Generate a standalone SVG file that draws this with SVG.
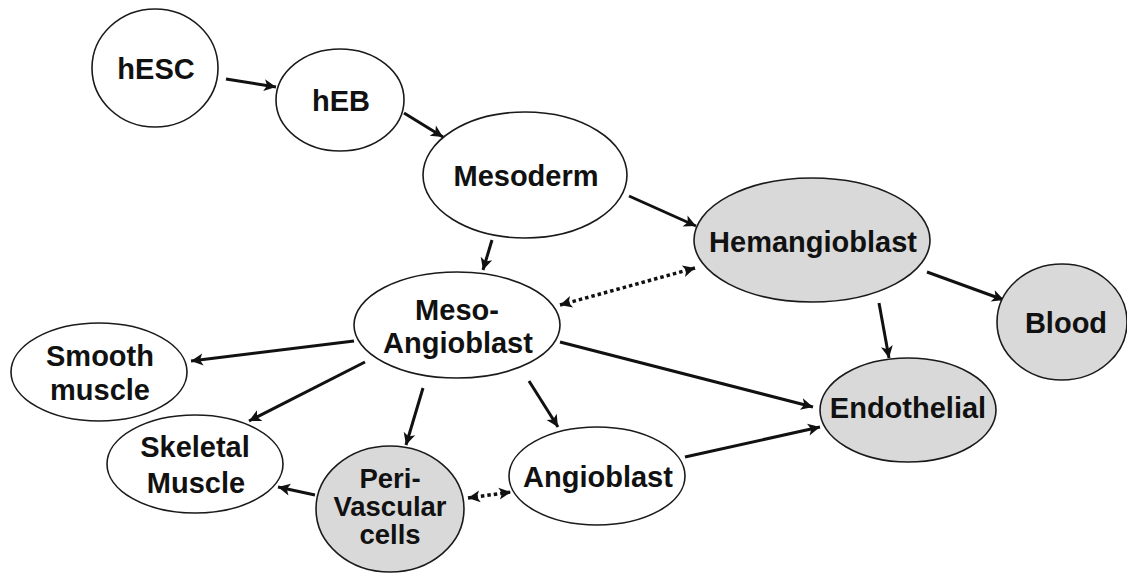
<svg xmlns="http://www.w3.org/2000/svg" width="1127" height="573" viewBox="0 0 1127 573">
  <style>
    .node { fill: #ffffff; stroke: #1a1a1a; stroke-width: 1.6; }
    .node.grey { fill: #d9d9d9; }
    .label { font-family: "Liberation Sans", Arial, sans-serif; font-weight: bold; font-size: 29px; fill: #111111; text-anchor: middle; }
    .label.small { font-size: 27.5px; }
    .edge { stroke: #111111; stroke-width: 3; fill: none; marker-end: url(#arrow); }
    .edge.dotted { stroke-width: 3.5; stroke-dasharray: 3.5 3; marker-start: url(#arrow); }
  </style>
  <defs>
    <marker id="arrow" viewBox="-1 -7 15 14" refX="12" refY="0" markerWidth="15" markerHeight="14" markerUnits="userSpaceOnUse" orient="auto-start-reverse">
      <path d="M0,-6 L12,0 L0,6 L3,0 Z" fill="#111111"/>
    </marker>
  </defs>
  <rect width="1127" height="573" fill="#ffffff"/>

  <g id="connectors">
    <line class="edge" x1="226" y1="79" x2="276" y2="87"/>
    <line class="edge" x1="404" y1="113" x2="443" y2="137"/>
    <line class="edge" x1="629" y1="196" x2="696" y2="226"/>
    <line class="edge" x1="492" y1="240" x2="483" y2="270"/>
    <line class="edge dotted" x1="560" y1="305" x2="695" y2="268"/>
    <line class="edge" x1="927" y1="272" x2="1004" y2="300"/>
    <line class="edge" x1="879" y1="303" x2="889" y2="358"/>
    <line class="edge" x1="354" y1="341" x2="191" y2="361"/>
    <line class="edge" x1="365" y1="362" x2="249" y2="421"/>
    <line class="edge" x1="423" y1="388" x2="406" y2="445"/>
    <line class="edge" x1="529" y1="381" x2="558" y2="427"/>
    <line class="edge" x1="560" y1="342" x2="813" y2="407"/>
    <line class="edge" x1="685" y1="457" x2="820" y2="427"/>
    <line class="edge" x1="315" y1="495" x2="278" y2="487"/>
    <line class="edge dotted" x1="468" y1="498" x2="511" y2="492"/>
  </g>

  <g id="hESC">
    <ellipse class="node" cx="155" cy="68" rx="63" ry="59"/>
    <text class="label" x="156" y="79">hESC</text>
  </g>
  <g id="hEB">
    <ellipse class="node" cx="340" cy="100" rx="64" ry="51"/>
    <text class="label" x="341" y="111">hEB</text>
  </g>
  <g id="mesoderm">
    <ellipse class="node" cx="525" cy="175" rx="102" ry="63"/>
    <text class="label" x="526" y="186">Mesoderm</text>
  </g>
  <g id="hemangioblast">
    <ellipse class="node grey" cx="812" cy="240" rx="118" ry="62"/>
    <text class="label" x="813" y="252">Hemangioblast</text>
  </g>
  <g id="blood">
    <ellipse class="node grey" cx="1062" cy="322" rx="65" ry="58"/>
    <text class="label" x="1066" y="333">Blood</text>
  </g>
  <g id="meso-angioblast">
    <ellipse class="node" cx="457" cy="325" rx="103" ry="53"/>
    <text class="label" x="457" y="320">Meso-</text>
    <text class="label" x="458" y="353">Angioblast</text>
  </g>
  <g id="endothelial">
    <ellipse class="node grey" cx="908" cy="410" rx="88" ry="52"/>
    <text class="label" x="908" y="418">Endothelial</text>
  </g>
  <g id="smooth-muscle">
    <ellipse class="node" cx="99" cy="372" rx="88" ry="49"/>
    <text class="label" x="100" y="366">Smooth</text>
    <text class="label" x="100" y="400">muscle</text>
  </g>
  <g id="skeletal-muscle">
    <ellipse class="node" cx="195" cy="464" rx="88" ry="49"/>
    <text class="label" x="195" y="457">Skeletal</text>
    <text class="label" x="196" y="493">Muscle</text>
  </g>
  <g id="peri-vascular">
    <ellipse class="node grey" cx="390" cy="509" rx="74" ry="63"/>
    <text class="label small" x="390" y="488">Peri-</text>
    <text class="label small" x="390" y="516">Vascular</text>
    <text class="label small" x="390" y="544">cells</text>
  </g>
  <g id="angioblast">
    <ellipse class="node" cx="597" cy="476" rx="88" ry="49"/>
    <text class="label" x="598" y="487">Angioblast</text>
  </g>
</svg>
